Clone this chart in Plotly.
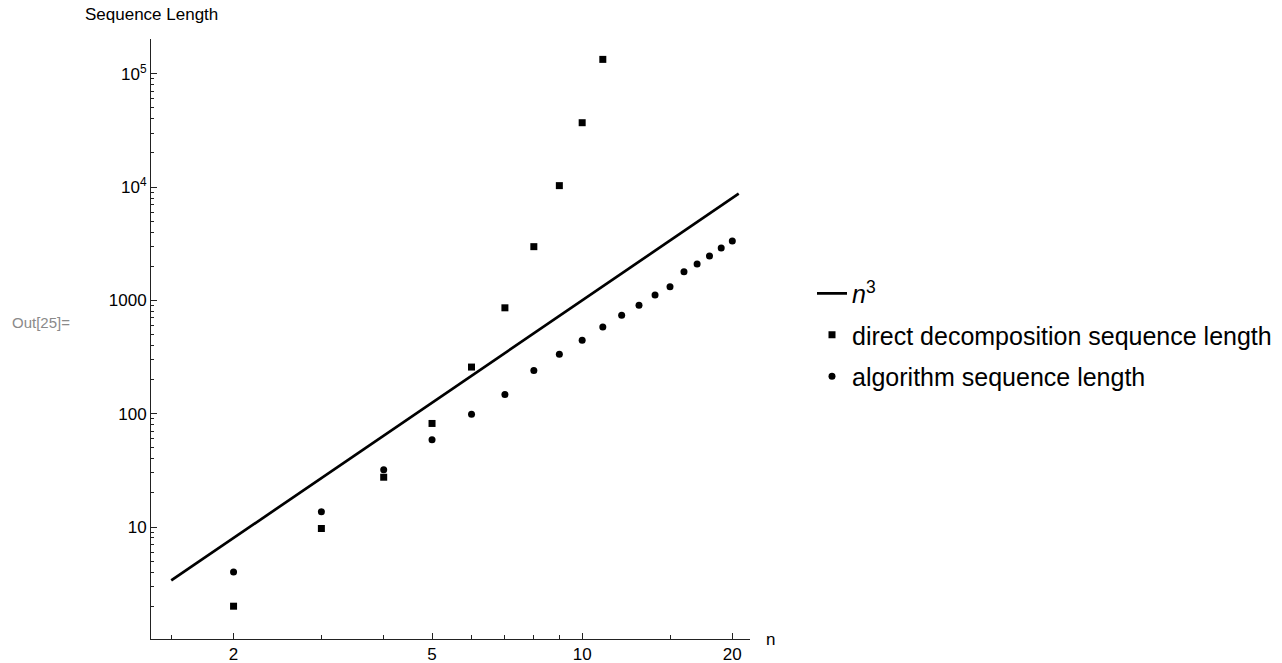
import numpy as np
import plotly.graph_objects as go

# ---- data ----
n_direct = [2, 3, 4, 5, 6, 7, 8, 9, 10, 11]
direct_len = [2, 9.7, 27.5, 82, 258, 860, 2980, 10300, 37000, 134000]

n_algo = [2, 3, 4, 5, 6, 7, 8, 9, 10, 11, 12, 13, 14, 15, 16, 17, 18, 19, 20]
algo_len = [4, 13.6, 32, 59, 99, 148, 241, 335, 445, 581, 741, 908, 1114,
            1318, 1790, 2094, 2467, 2904, 3350]

n_curve_range = [1.5, 20.6]

x_major = [2, 5, 10, 20]
x_major_text = ["2", "5", "10", "20"]
x_minor = [1.5, 3, 4, 6, 7, 8, 9, 15]

y_major = [1, 10, 100, 1000, 10000, 100000]
y_major_text = ["", "10", "100", "1000", "10<sup>4</sup>", "10<sup>5</sup>"]

FONT = "Liberation Sans, Arial, Helvetica, sans-serif"

n_curve = np.geomspace(n_curve_range[0], n_curve_range[1], 50)
y_minor = [m * 10 ** k for k in range(0, 6) for m in range(2, 10)]

fig = go.Figure()
fig.add_trace(go.Scatter(
    x=n_curve, y=n_curve ** 3, mode="lines",
    line=dict(color="black", width=2.7),
    name="<i>n</i><sup>3</sup>", legendgroup="a"))
fig.add_trace(go.Scatter(
    x=n_direct, y=direct_len, mode="markers",
    marker=dict(symbol="square", size=7, color="black"),
    name="direct decomposition sequence length", legendgroup="b"))
fig.add_trace(go.Scatter(
    x=n_algo, y=algo_len, mode="markers",
    marker=dict(symbol="circle", size=7, color="black"),
    name="algorithm sequence length", legendgroup="c"))

axis_common = dict(
    showgrid=False, zeroline=False, showline=True, linecolor="#222",
    linewidth=1, ticks="inside", ticklen=6, tickcolor="#222", tickwidth=1,
    tickfont=dict(family=FONT, size=17, color="black"), automargin=False,
)

fig.update_xaxes(type="log", range=[0.1355, 1.3365],
                 tickmode="array", tickvals=x_major, ticktext=x_major_text,
                 minor=dict(tickmode="array", tickvals=x_minor, ticks="inside",
                            ticklen=4, tickcolor="#222", tickwidth=1),
                 **axis_common)
fig.update_yaxes(type="log", range=[0.0115, 5.307],
                 tickmode="array", tickvals=y_major, ticktext=y_major_text,
                 minor=dict(tickmode="array", tickvals=y_minor, ticks="inside",
                            ticklen=3, tickcolor="#222", tickwidth=1),
                 **axis_common)

fig.update_layout(
    width=1282, height=663,
    margin=dict(l=151, r=532, t=39, b=24, autoexpand=False),
    paper_bgcolor="white", plot_bgcolor="white",
    font=dict(family=FONT, color="black"),
    showlegend=True,
    legend=dict(x=1.1035, y=0.614, xanchor="left", yanchor="top",
                font=dict(family=FONT, size=25, color="black"),
                traceorder="grouped", tracegroupgap=6,
                bgcolor="rgba(0,0,0,0)", itemwidth=30),
    annotations=[
        dict(text="Sequence Length", xref="paper", yref="paper",
             x=-0.1135, y=1.04, xanchor="left", yanchor="middle",
             showarrow=False, font=dict(family=FONT, size=17, color="black")),
        dict(text="n", xref="paper", yref="paper",
             x=1.024, y=0.0, xanchor="left", yanchor="middle",
             showarrow=False, font=dict(family=FONT, size=17, color="black")),
        dict(text="Out[25]=", xref="paper", yref="paper",
             x=-0.2354, y=0.528, xanchor="left", yanchor="middle",
             showarrow=False, font=dict(family=FONT, size=15, color="#8a8a8a")),
    ],
)

fig.write_html("out.html",
               config={"displayModeBar": False},
               post_script="document.body.style.margin='0';"
                           "document.body.style.overflow='hidden';")
